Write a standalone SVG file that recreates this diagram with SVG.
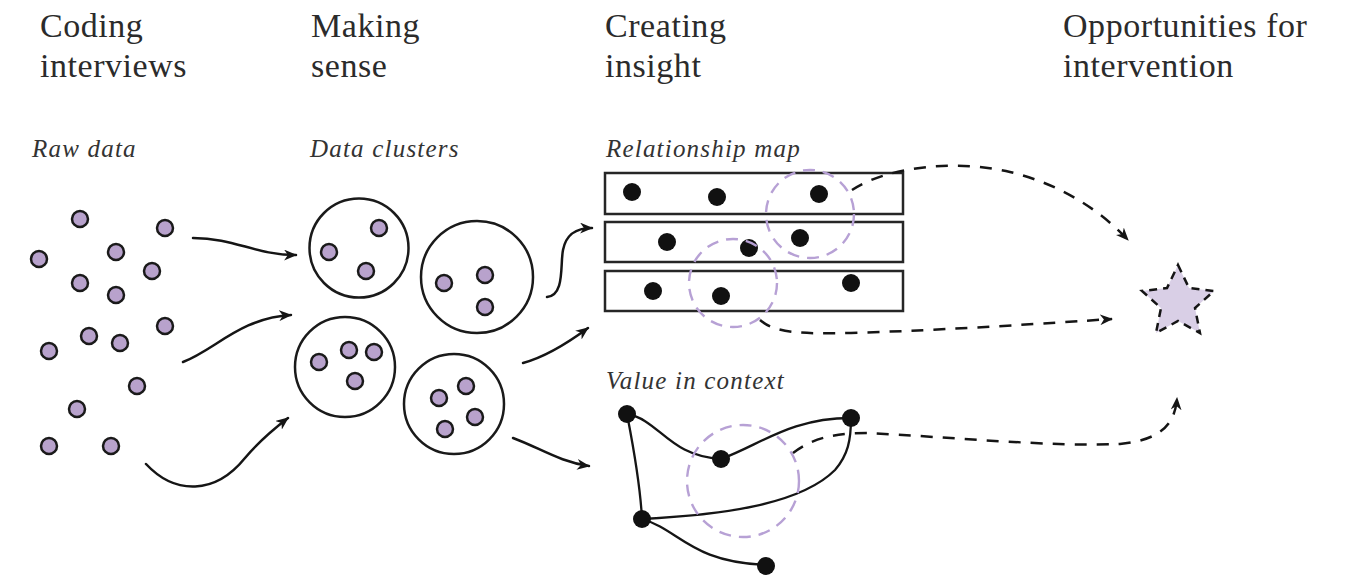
<svg xmlns="http://www.w3.org/2000/svg" width="1348" height="576" viewBox="0 0 1348 576">
  <style>
    .head { font-family: "Liberation Serif", "DejaVu Serif", serif; font-size: 34px; fill: #2b2b2b; letter-spacing: 0.55px; }
    .sub { font-family: "Liberation Serif", "DejaVu Serif", serif; font-style: italic; font-size: 25px; fill: #333; letter-spacing: 1.2px; }
    .datum { fill: #b8a2cc; stroke: #1a1a1a; stroke-width: 2.5; }
    .cluster { fill: none; stroke: #1a1a1a; stroke-width: 2.5; }
    .band { fill: #fff; stroke: #262626; stroke-width: 2.5; }
    .point { fill: #111; }
    .halo { fill: none; stroke: #b7a1d5; stroke-width: 2.4; stroke-dasharray: 12 8; }
    .flow { fill: none; stroke: #151515; stroke-width: 2.5; stroke-linecap: round; marker-end: url(#tip); }
    .lead { fill: none; stroke: #151515; stroke-width: 2.5; stroke-dasharray: 12 10; marker-end: url(#tip); }
    .edge { fill: none; stroke: #151515; stroke-width: 2.3; }
    .goal { fill: #d9cfe6; stroke: #151515; stroke-width: 2.5; stroke-dasharray: 8 6; stroke-linejoin: miter; }
  </style>
  <defs>
    <marker id="tip" viewBox="0 0 12 10" refX="11" refY="5" markerWidth="13" markerHeight="11" markerUnits="userSpaceOnUse" orient="auto">
      <path d="M0,0 L12,5 L0,10 L3.5,5 Z" fill="#151515"/>
    </marker>
  </defs>

  <!-- column headings -->
  <g id="headings">
    <text class="head" x="40" y="37">Coding</text>
    <text class="head" x="40" y="77">interviews</text>
    <text class="head" x="311" y="37">Making</text>
    <text class="head" x="311" y="77">sense</text>
    <text class="head" x="605" y="37">Creating</text>
    <text class="head" x="605" y="77">insight</text>
    <text class="head" x="1063" y="37">Opportunities for</text>
    <text class="head" x="1063" y="77">intervention</text>
  </g>

  <!-- raw data -->
  <g id="raw-data">
    <text class="sub" x="32" y="157">Raw data</text>
    <circle class="datum" cx="80" cy="219" r="8"/>
    <circle class="datum" cx="165" cy="228" r="8"/>
    <circle class="datum" cx="39" cy="259" r="8"/>
    <circle class="datum" cx="116" cy="252" r="8"/>
    <circle class="datum" cx="152" cy="271" r="8"/>
    <circle class="datum" cx="80" cy="283" r="8"/>
    <circle class="datum" cx="116" cy="295" r="8"/>
    <circle class="datum" cx="165" cy="326" r="8"/>
    <circle class="datum" cx="89" cy="336" r="8"/>
    <circle class="datum" cx="120" cy="343" r="8"/>
    <circle class="datum" cx="49" cy="351" r="8"/>
    <circle class="datum" cx="137" cy="386" r="8"/>
    <circle class="datum" cx="77" cy="409" r="8"/>
    <circle class="datum" cx="49" cy="446" r="8"/>
    <circle class="datum" cx="111" cy="446" r="8"/>
  </g>

  <!-- data clusters -->
  <g id="clusters">
    <text class="sub" x="310" y="157">Data clusters</text>
    <g id="cluster-1">
      <circle class="cluster" cx="359" cy="248" r="49.5"/>
      <circle class="datum" cx="379" cy="228" r="8"/>
      <circle class="datum" cx="329" cy="252" r="8"/>
      <circle class="datum" cx="366" cy="271" r="8"/>
    </g>
    <g id="cluster-2">
      <circle class="cluster" cx="477" cy="277" r="56"/>
      <circle class="datum" cx="444" cy="283" r="8"/>
      <circle class="datum" cx="485" cy="275" r="8"/>
      <circle class="datum" cx="485" cy="307" r="8"/>
    </g>
    <g id="cluster-3">
      <circle class="cluster" cx="345" cy="367" r="50"/>
      <circle class="datum" cx="319" cy="362" r="8"/>
      <circle class="datum" cx="349" cy="350" r="8"/>
      <circle class="datum" cx="374" cy="352" r="8"/>
      <circle class="datum" cx="355" cy="381" r="8"/>
    </g>
    <g id="cluster-4">
      <circle class="cluster" cx="454" cy="404" r="50"/>
      <circle class="datum" cx="466" cy="386" r="8"/>
      <circle class="datum" cx="439" cy="398" r="8"/>
      <circle class="datum" cx="475" cy="417" r="8"/>
      <circle class="datum" cx="445" cy="429" r="8"/>
    </g>
  </g>

  <!-- relationship map -->
  <g id="relationship-map">
    <text class="sub" x="606" y="157">Relationship map</text>
    <rect class="band" x="605" y="173" width="298" height="41"/>
    <rect class="band" x="605" y="222" width="298" height="40"/>
    <rect class="band" x="605" y="271" width="298" height="40"/>
    <circle class="point" cx="632" cy="192" r="9"/>
    <circle class="point" cx="717" cy="197" r="9"/>
    <circle class="point" cx="819" cy="194" r="9"/>
    <circle class="point" cx="667" cy="242" r="9"/>
    <circle class="point" cx="749" cy="248" r="9"/>
    <circle class="point" cx="800" cy="238" r="9"/>
    <circle class="point" cx="653" cy="291" r="9"/>
    <circle class="point" cx="721" cy="296" r="9"/>
    <circle class="point" cx="851" cy="283" r="9"/>
    <circle class="halo" cx="810" cy="214" r="44"/>
    <circle class="halo" cx="733" cy="283" r="44"/>
  </g>

  <!-- value in context -->
  <g id="value-in-context">
    <text class="sub" x="606" y="389">Value in context</text>
    <path class="edge" d="M627,414 C660,420 668,456 721,459"/>
    <path class="edge" d="M721,459 C760,445 790,418 851,418"/>
    <path class="edge" d="M627,414 C632,440 640,480 642,519"/>
    <path class="edge" d="M642,519 C720,515 800,505 835,470 C848,455 851,440 851,418"/>
    <path class="edge" d="M642,519 C680,530 690,562 766,565"/>
    <circle class="point" cx="627" cy="414" r="9"/>
    <circle class="point" cx="721" cy="459" r="9"/>
    <circle class="point" cx="851" cy="418" r="9"/>
    <circle class="point" cx="642" cy="519" r="9"/>
    <circle class="point" cx="766" cy="566" r="9"/>
    <circle class="halo" cx="743" cy="481" r="56"/>
  </g>

  <!-- opportunity -->
  <g id="opportunity">
    <polygon class="goal" points="1178,265 1189,288 1214,291 1195,308 1200,333 1178,321 1156,333 1161,308 1142,291 1167,288"/>
  </g>

  <!-- connectors -->
  <g id="connectors">
    <path class="flow" d="M193,238 C235,238 255,255 296,255"/>
    <path class="flow" d="M183,362 C215,350 240,318 291,315"/>
    <path class="flow" d="M146,464 C175,495 215,495 245,458 C260,440 275,428 288,418"/>
    <path class="flow" d="M547,297 C565,295 560,265 563,250 C566,235 575,228 592,228"/>
    <path class="flow" d="M523,363 C545,357 565,345 588,328"/>
    <path class="flow" d="M513,438 C540,448 560,462 589,466"/>
    <path class="lead" d="M852,190 C890,165 960,160 1010,172 C1060,184 1100,210 1128,240"/>
    <path class="lead" d="M760,320 C775,333 800,334 850,333 C950,330 1050,323 1112,319"/>
    <path class="lead" d="M793,453 C810,440 830,433 867,433 C950,437 1050,447 1120,444 C1160,440 1175,425 1177,398"/>
  </g>
</svg>
